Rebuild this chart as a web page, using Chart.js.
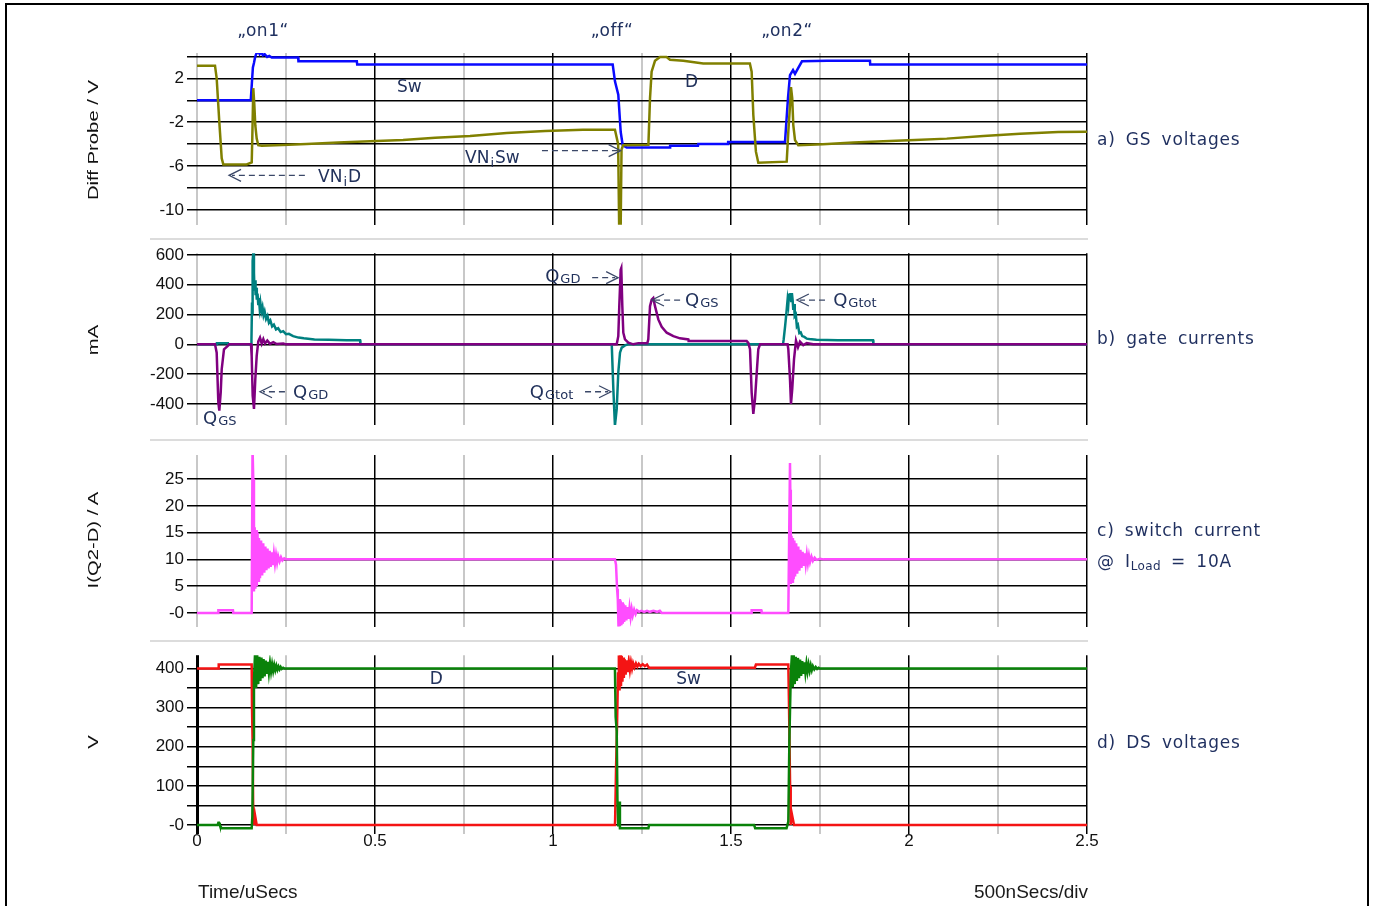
<!DOCTYPE html>
<html>
<head>
<meta charset="utf-8">
<script src="https://cdn.jsdelivr.net/npm/chart.js"></script>
<style>
  body { margin: 0; background: #fff; width: 1375px; height: 906px; overflow: hidden; position: relative; }
  #frame { position: absolute; left: 5px; top: 3px; width: 1364px; height: 960px; border: 2px solid #000; box-sizing: border-box; }
  canvas { position: absolute; left: 0; }
  .sep { position: absolute; left: 150px; width: 938px; height: 2px; background: #dcdcdc; }
  .ytitle { position: absolute; left: 92px; font-family: 'Liberation Sans', Arial, sans-serif; font-size: 15px; color: #111;
            white-space: nowrap; transform: translate(-50%, -50%) rotate(-90deg) scaleX(1.35); }
  .rlab { position: absolute; left: 1097px; font-family: 'DejaVu Sans', sans-serif; font-size: 17px; line-height: 20px;
          color: #1f2f5f; white-space: pre; word-spacing: 4px; letter-spacing: 0.8px; }
  .rlab sub { font-size: 12px; vertical-align: -3px; line-height: 0; letter-spacing: 0.3px; }
  .top { position: absolute; top: 19px; font-family: 'DejaVu Sans', sans-serif; font-size: 17px; line-height: 22px;
         color: #1f3060; transform: translateX(-50%); letter-spacing: 0.5px; }
  .foot { position: absolute; top: 881px; font-family: 'Liberation Sans', Arial, sans-serif; font-size: 19px; line-height: 22px; color: #1a1a1a; }
</style>
</head>
<body>
<div id="frame"></div>
<div class="sep" style="top:238px"></div>
<div class="sep" style="top:439px"></div>
<div class="sep" style="top:640px"></div>

<canvas id="gs" width="1375" height="238" style="top:0px"></canvas>
<canvas id="ig" width="1375" height="199" style="top:240px"></canvas>
<canvas id="isw" width="1375" height="199" style="top:441px"></canvas>
<canvas id="vds" width="1375" height="264" style="top:642px"></canvas>

<div class="ytitle" style="top:140px">Diff Probe / V</div>
<div class="ytitle" style="top:340px">mA</div>
<div class="ytitle" style="top:540px">I(Q2-D) / A</div>
<div class="ytitle" style="top:742px">V</div>

<div class="top" style="left:263px">„on1“</div>
<div class="top" style="left:612px">„off“</div>
<div class="top" style="left:787px">„on2“</div>

<div class="rlab" style="top:129px">a) GS voltages</div>
<div class="rlab" style="top:328px">b) gate currents</div>
<div class="rlab" style="top:520px">c) switch current</div>
<div class="rlab" style="top:551px">@ I<sub>Load</sub> = 10A</div>
<div class="rlab" style="top:732px">d) DS voltages</div>

<div class="foot" style="left:198px">Time/uSecs</div>
<div class="foot" style="right:287px">500nSecs/div</div>

<script>
// time axis (uSecs)
var timeTicks = [0, 0.25, 0.5, 0.75, 1, 1.25, 1.5, 1.75, 2, 2.25, 2.5];
var timeLabels = ['0', '', '0.5', '', '1', '', '1.5', '', '2', '', '2.5'];

// a) GS voltages, V
var gsTicks = [-10, -8, -6, -4, -2, 0, 2, 4];
var gsLabels = ['-10', '', '-6', '', '-2', '', '2', ''];
var gsD = [[0, 3.15], [0.0506, 3.15], [0.0553, 2.0], [0.0626, -1.95], [0.0694, -5.3], [0.0739, -5.85], [0.1396, -5.85],
  [0.1537, -5.66], [0.1553, -3.5], [0.1581, 1.1], [0.161, -0.4], [0.1638, -2.3], [0.1677, -3.5], [0.1722, -4.1],
  [0.1817, -4.14], [0.24, -4.08], [0.308, -4.0], [0.396, -3.86], [0.486, -3.74], [0.579, -3.62], [0.669, -3.43],
  [0.767, -3.25], [0.87, -2.98], [0.978, -2.8], [1.084, -2.68], [1.174, -2.68], [1.183, -4.0], [1.186, -12],
  [1.19, -12], [1.1925, -4.5], [1.197, -4.1], [1.268, -4.05], [1.2725, 0.17], [1.277, 2.6], [1.2865, 3.6],
  [1.3006, 3.95], [1.319, 3.95], [1.3287, 3.7], [1.366, 3.6], [1.422, 3.35], [1.553, 3.35], [1.558, 2.6],
  [1.5627, -1.35], [1.57, -4.69], [1.5767, -5.7], [1.6565, -5.6], [1.661, -2.87], [1.6657, -0.5], [1.6685, 1.2],
  [1.672, 0.17], [1.675, -2.26], [1.6798, -3.63], [1.689, -4.1], [1.758, -4.02], [1.8435, -3.86], [1.928, -3.74],
  [2.017, -3.62], [2.106, -3.5], [2.209, -3.26], [2.3118, -3.05], [2.419, -2.9], [2.5, -2.88]];
var gsSw = [[0, 0], [0.151, 0], [0.154, 1.5], [0.157, 3.0], [0.16, 3.4], [0.163, 3.9], [0.166, 4.2], [0.172, 4.5],
  [0.176, 4.2], [0.18, 4.4], [0.185, 4.1], [0.19, 4.2], [0.197, 3.95], [0.203, 4.05], [0.21, 3.9], [0.284, 3.9],
  [0.285, 3.55], [0.449, 3.55], [0.45, 3.25], [1.1677, 3.25], [1.1742, 1.7], [1.1834, 0.5], [1.1902, -2.9],
  [1.1958, -4.1], [1.207, -4.3], [1.3287, -4.3], [1.329, -4.14], [1.4073, -4.14], [1.408, -4.0], [1.4916, -4.0],
  [1.492, -3.8], [1.6517, -3.8], [1.6601, 0.2], [1.6657, 2.3], [1.6742, 2.75], [1.6798, 2.4], [1.6882, 2.9],
  [1.6994, 3.55], [1.7697, 3.6], [1.8904, 3.6], [1.891, 3.25], [2.5, 3.25]];

// b) gate currents, mA
var igTicks = [-400, -200, 0, 200, 400, 600];
var igLabels = ['-400', '-200', '0', '200', '400', '600'];
var igD = [[0, 0], [0.0506, 0], [0.0553, -56], [0.0599, -389], [0.0627, -444], [0.0666, -322], [0.0694, -167],
  [0.0758, -33], [0.088, -7], [0.09, 0], [0.1517, 0], [0.1536, -78], [0.1564, -344], [0.1601, -433], [0.1638, -233],
  [0.1677, -78], [0.1722, 20], [0.177, 45], [0.1817, 5], [0.1863, 35], [0.191, 5], [0.1975, 25], [0.205, 3],
  [0.2143, 15], [0.2238, 2], [0.2424, 6], [0.25, 0], [1.179, 0], [1.1834, 55], [1.1862, 256], [1.1901, 500],
  [1.1918, 511], [1.1947, 256], [1.1975, 78], [1.2022, 33], [1.2116, 11], [1.2256, 0], [1.24, 8], [1.265, 8],
  [1.2677, 33], [1.2725, 256], [1.2772, 300], [1.2817, 311], [1.2865, 256], [1.2958, 167], [1.3053, 118],
  [1.3194, 78], [1.3381, 55], [1.3567, 40], [1.3801, 33], [1.381, 22], [1.544, 22], [1.5487, 10], [1.5534, -33],
  [1.558, -322], [1.5627, -467], [1.5674, -367], [1.572, -200], [1.5767, -33], [1.5815, 0], [1.659, 0],
  [1.661, -33], [1.6657, -233], [1.6685, -400], [1.672, -300], [1.677, -100], [1.6826, 25], [1.6882, -20],
  [1.6938, 18], [1.703, -5], [1.7128, 8], [1.731, 0], [2.5, 0]];
var igSw = [[0, 0], [0.055, 0], [0.056, 8], [0.087, 8], [0.088, 0], [0.1517, 0], [0.153, 30], [0.1545, 280],
  [0.1555, 200], [0.157, 560], [0.1585, 622], [0.16, 480], [0.1615, 360], [0.163, 430], [0.1645, 330], [0.166, 380],
  [0.168, 300], [0.17, 340], [0.172, 270], [0.174, 310], [0.176, 245], [0.178, 280], [0.181, 220], [0.184, 250],
  [0.187, 195], [0.19, 220], [0.194, 170], [0.198, 190], [0.202, 145], [0.206, 160], [0.211, 120], [0.216, 132],
  [0.222, 100], [0.228, 108], [0.235, 82], [0.242, 88], [0.25, 68], [0.258, 70], [0.27, 55], [0.285, 45],
  [0.3, 40], [0.33, 33], [0.37, 30], [0.42, 28], [0.458, 28], [0.459, 0], [1.165, 0], [1.1695, -300],
  [1.174, -545], [1.179, -433], [1.1834, -189], [1.1882, -56], [1.193, -22], [1.2022, -7], [1.211, 0], [1.646, 0],
  [1.648, 33], [1.652, 122], [1.656, 220], [1.659, 300], [1.661, 267], [1.663, 340], [1.665, 300], [1.667, 344],
  [1.669, 290], [1.671, 344], [1.673, 300], [1.675, 230], [1.677, 270], [1.679, 190], [1.682, 200], [1.685, 120],
  [1.688, 130], [1.692, 75], [1.696, 80], [1.7, 55], [1.706, 50], [1.713, 38], [1.72, 35], [1.74, 30], [1.8, 27],
  [1.899, 27], [1.9, 0], [2.5, 0]];

// c) switch current, A
var iswTicks = [0, 5, 10, 15, 20, 25];
var iswLabels = ['-0', '5', '10', '15', '20', '25'];
var iSw = [[0, 0], [0.059, 0], [0.06, 0.5], [0.101, 0.5], [0.102, 0], [0.1536, 0], [0.156, 31], [0.158, 25],
  [0.16, 4], [0.162, 16], [0.164, 4.5], [0.166, 15.5], [0.168, 5], [0.17, 15], [0.172, 6], [0.174, 14], [0.177, 6.5],
  [0.18, 13.5], [0.183, 7], [0.186, 13], [0.189, 7.5], [0.192, 12.4], [0.195, 8], [0.198, 12], [0.201, 8.3],
  [0.204, 11.6], [0.207, 8.6], [0.21, 11.3], [0.213, 8.9], [0.216, 11], [0.219, 9.2], [0.222, 10.8], [0.225, 9.4],
  [0.228, 10.6], [0.232, 9.6], [0.236, 10.4], [0.24, 9.8], [0.245, 10.2], [0.25, 10], [1.174, 10], [1.177, 9],
  [1.18, 4.5], [1.182, 2.6], [1.184, -2.6], [1.186, 2.6], [1.188, -2.5], [1.19, 2.3], [1.192, -2.3], [1.194, 2],
  [1.196, -2], [1.198, 1.7], [1.2, -1.7], [1.203, 1.4], [1.206, -1.4], [1.209, 1.1], [1.212, -1.1], [1.215, 0.9],
  [1.218, -0.8], [1.221, 0.7], [1.224, -0.5], [1.228, 0.6], [1.232, -0.2], [1.236, 0.5], [1.242, 0.2], [1.248, 0.4],
  [1.256, 0.2], [1.264, 0.4], [1.272, 0.2], [1.282, 0.4], [1.292, 0.2], [1.3, 0.4], [1.305, 0], [1.557, 0],
  [1.558, 0.5], [1.585, 0.5], [1.586, 0], [1.661, 0], [1.6657, 28], [1.6665, 23], [1.668, 5.4], [1.67, 14.4],
  [1.672, 5.8], [1.674, 14], [1.676, 6.3], [1.678, 13.5], [1.68, 6.8], [1.683, 13], [1.686, 7.3], [1.689, 12.4],
  [1.692, 7.9], [1.695, 11.8], [1.698, 8.4], [1.701, 11.4], [1.704, 8.8], [1.707, 11.1], [1.71, 9.1], [1.713, 10.9],
  [1.716, 9.3], [1.719, 10.7], [1.722, 9.5], [1.726, 10.5], [1.73, 9.7], [1.735, 10.3], [1.74, 9.9], [1.75, 10.1],
  [1.76, 10], [2.5, 10]];

// d) DS voltages, V
var vdsTicks = [0, 50, 100, 150, 200, 250, 300, 350, 400];
var vdsLabels = ['-0', '', '100', '', '200', '', '300', '', '400'];
var vdsD = [[0, 0], [0.058, 0], [0.06, 6], [0.062, 6], [0.064, 0], [0.0694, -8.5], [0.1536, -8.5], [0.1554, 21],
  [0.1582, 217], [0.16, 370], [0.163, 438], [0.166, 350], [0.169, 436], [0.172, 360], [0.175, 430], [0.178, 368],
  [0.181, 428], [0.184, 375], [0.187, 424], [0.19, 380], [0.193, 420], [0.196, 386], [0.199, 417], [0.202, 389],
  [0.205, 414], [0.208, 392], [0.211, 411], [0.214, 394], [0.217, 409], [0.22, 396], [0.223, 407], [0.226, 397],
  [0.229, 405], [0.232, 398], [0.235, 404], [0.238, 399], [0.242, 402], [0.246, 400], [1.174, 400], [1.176, 276],
  [1.179, 240], [1.181, 64], [1.1834, -4], [1.186, 60], [1.188, -8.5], [1.268, -8.5], [1.27, 0], [1.565, 0],
  [1.568, -8.5], [1.656, -8.5], [1.661, 9], [1.664, 217], [1.668, 387], [1.6713, 438], [1.6735, 352], [1.676, 436],
  [1.679, 360], [1.682, 430], [1.685, 368], [1.688, 427], [1.691, 375], [1.694, 423], [1.697, 381], [1.7, 419],
  [1.703, 386], [1.706, 416], [1.709, 389], [1.712, 413], [1.715, 392], [1.718, 410], [1.721, 394], [1.724, 408],
  [1.727, 396], [1.73, 406], [1.734, 398], [1.738, 404], [1.742, 399], [1.746, 402], [1.75, 400], [2.5, 400]];
var vdsSw = [[0, 400], [0.06, 400], [0.061, 410], [0.1536, 410], [0.1545, 302], [0.1564, 200], [0.158, 20],
  [0.16, 0], [0.163, 25], [0.1677, 0], [1.174, 0], [1.1745, 13], [1.177, 140], [1.18, 259], [1.1826, 387],
  [1.185, 434], [1.187, 344], [1.189, 436], [1.191, 355], [1.193, 432], [1.195, 366], [1.197, 428], [1.199, 376],
  [1.201, 424], [1.204, 384], [1.207, 421], [1.21, 391], [1.213, 418], [1.216, 396], [1.219, 416], [1.222, 400],
  [1.225, 414], [1.229, 403], [1.233, 413], [1.237, 405], [1.241, 412], [1.246, 406], [1.252, 411], [1.258, 406],
  [1.264, 410], [1.268, 404], [1.27, 402], [1.567, 402], [1.57, 410], [1.661, 410], [1.663, 302], [1.666, 100],
  [1.6677, 0], [1.6705, 30], [1.677, 0], [2.5, 0]];

function toPoints(pairs) {
    return pairs.map(function (p) { return {x: p[0], y: p[1]}; });
}

// text labels and dashed arrows inside the plots, placed in data units
function notesPlugin(notes, arrows) {
    return {
        id: 'notes',
        afterDatasetsDraw: function (chart) {
            var ctx = chart.ctx, sx = chart.scales.x, sy = chart.scales.y;
            ctx.save();
            ctx.strokeStyle = '#3b4868';
            ctx.lineWidth = 1.3;
            arrows.forEach(function (a) {
                var x0 = sx.getPixelForValue(a.from), x1 = sx.getPixelForValue(a.to), y = sy.getPixelForValue(a.y);
                var dir = x1 > x0 ? 1 : -1;
                ctx.setLineDash([6, 4]);
                ctx.beginPath(); ctx.moveTo(x0, y); ctx.lineTo(x1 - dir * 3, y); ctx.stroke();
                ctx.setLineDash([]);
                ctx.beginPath(); ctx.moveTo(x1 - dir * 12, y - 6); ctx.lineTo(x1, y); ctx.lineTo(x1 - dir * 12, y + 6); ctx.stroke();
            });
            ctx.fillStyle = '#22325c';
            ctx.textAlign = 'left';
            ctx.textBaseline = 'alphabetic';
            notes.forEach(function (n) {
                var x = sx.getPixelForValue(n.x), y = sy.getPixelForValue(n.y);
                n.parts.forEach(function (p) {
                    var sub = p[1] !== 0;
                    ctx.font = (sub ? '13px' : (n.big ? '18px' : '17px')) + ' "DejaVu Sans"';
                    ctx.fillText(p[0], x, y + 6 + p[1]);
                    x += ctx.measureText(p[0]).width + 1;
                });
            });
            ctx.restore();
        }
    };
}

function buildPanel(id, cfg) {
    var series = cfg.series.map(function (s) {
        return {data: toPoints(s.data), borderColor: s.color, borderWidth: 2.5, pointRadius: 0, tension: 0, fill: false};
    });
    return new Chart(document.getElementById(id), {
        type: 'line',
        data: {datasets: series},
        options: {
            responsive: false,
            animation: false,
            devicePixelRatio: 1,
            events: [],
            layout: {padding: {left: 80, right: 288, top: cfg.padTop, bottom: cfg.padBottom}},
            plugins: {legend: {display: false}, tooltip: {enabled: false}},
            scales: {
                x: {
                    type: 'linear', min: 0, max: 2.5,
                    afterBuildTicks: function (sc) { sc.ticks = timeTicks.map(function (v) { return {value: v}; }); },
                    afterFit: function (sc) { sc.height = cfg.xHeight; },
                    border: {display: false},
                    grid: {
                        drawTicks: false,
                        color: function (c) {
                            if (c.tick.value === 0) return cfg.zeroColor;
                            return c.tick.value % 0.5 === 0 ? '#000' : '#c8c8c8';
                        },
                        lineWidth: function (c) {
                            if (c.tick.value === 0) return cfg.zeroWidth;
                            return c.tick.value % 0.5 === 0 ? 1.5 : 2;
                        }
                    },
                    ticks: {
                        display: cfg.showTime, autoSkip: false, maxRotation: 0, padding: -3, color: '#111',
                        font: {family: 'Liberation Sans', size: 17},
                        callback: function (v) { var k = timeTicks.indexOf(v); return k < 0 ? '' : timeLabels[k]; }
                    }
                },
                y: {
                    type: 'linear', min: cfg.min, max: cfg.max,
                    afterBuildTicks: function (sc) { sc.ticks = cfg.ticks.map(function (v) { return {value: v}; }); },
                    afterFit: function (sc) { sc.width = 117; },
                    border: {display: false},
                    grid: {color: '#000', lineWidth: 1.5, tickLength: 10, tickColor: '#000'},
                    ticks: {
                        autoSkip: false, padding: 3, color: '#111',
                        font: {family: 'Liberation Sans', size: 17},
                        callback: function (v) { var k = cfg.ticks.indexOf(v); return k < 0 ? '' : cfg.labels[k]; }
                    }
                }
            }
        },
        plugins: [notesPlugin(cfg.notes, cfg.arrows)]
    });
}

buildPanel('gs', {
    min: -11.36, max: 4.31, ticks: gsTicks, labels: gsLabels,
    padTop: 53, padBottom: 11, xHeight: 0, showTime: false, zeroColor: '#c8c8c8', zeroWidth: 2,
    series: [{data: gsD, color: '#808000'}, {data: gsSw, color: '#0a0aff'}],
    notes: [
        {x: 0.562, y: 1.3, parts: [['Sw', 0]]},
        {x: 1.371, y: 1.75, parts: [['D', 0]]},
        {x: 0.34, y: -6.95, parts: [['VN', 0], ['i', 4], ['D', 0]]},
        {x: 0.753, y: -5.2, parts: [['VN', 0], ['i', 4], ['Sw', 0]]}
    ],
    arrows: [
        {from: 0.303, to: 0.09, y: -6.85},
        {from: 0.969, to: 1.19, y: -4.6}
    ]
});

buildPanel('ig', {
    min: -541, max: 611, ticks: igTicks, labels: igLabels,
    padTop: 13, padBottom: 14, xHeight: 0, showTime: false, zeroColor: '#c8c8c8', zeroWidth: 2,
    series: [{data: igD, color: '#800080'}, {data: igSw, color: '#008080'}],
    notes: [
        {x: 0.017, y: -495, big: true, parts: [['Q', 0], ['GS', 1]]},
        {x: 0.27, y: -318, big: true, parts: [['Q', 0], ['GD', 1]]},
        {x: 0.978, y: 455, big: true, parts: [['Q', 0], ['GD', 1]]},
        {x: 1.371, y: 297, big: true, parts: [['Q', 0], ['GS', 1]]},
        {x: 0.935, y: -318, big: true, parts: [['Q', 0], ['Gtot', 1]]},
        {x: 1.787, y: 297, big: true, parts: [['Q', 0], ['Gtot', 1]]}
    ],
    arrows: [
        {from: 0.247, to: 0.177, y: -318},
        {from: 1.11, to: 1.183, y: 447},
        {from: 1.357, to: 1.278, y: 297},
        {from: 1.09, to: 1.163, y: -318},
        {from: 1.764, to: 1.685, y: 297}
    ]
});

buildPanel('isw', {
    min: -2.6, max: 29.5, ticks: iswTicks, labels: iswLabels,
    padTop: 14, padBottom: 12, xHeight: 0, showTime: false, zeroColor: '#c8c8c8', zeroWidth: 2,
    series: [{data: iSw, color: '#ff4dff'}],
    notes: [], arrows: []
});

buildPanel('vds', {
    min: -23, max: 434, ticks: vdsTicks, labels: vdsLabels,
    padTop: 13, padBottom: 0, xHeight: 72, showTime: true, zeroColor: '#000', zeroWidth: 3,
    series: [{data: vdsD, color: '#0a820a'}, {data: vdsSw, color: '#f41414'}],
    notes: [
        {x: 0.654, y: 375, parts: [['D', 0]]},
        {x: 1.346, y: 375, parts: [['Sw', 0]]}
    ],
    arrows: []
});
</script>
</body>
</html>
